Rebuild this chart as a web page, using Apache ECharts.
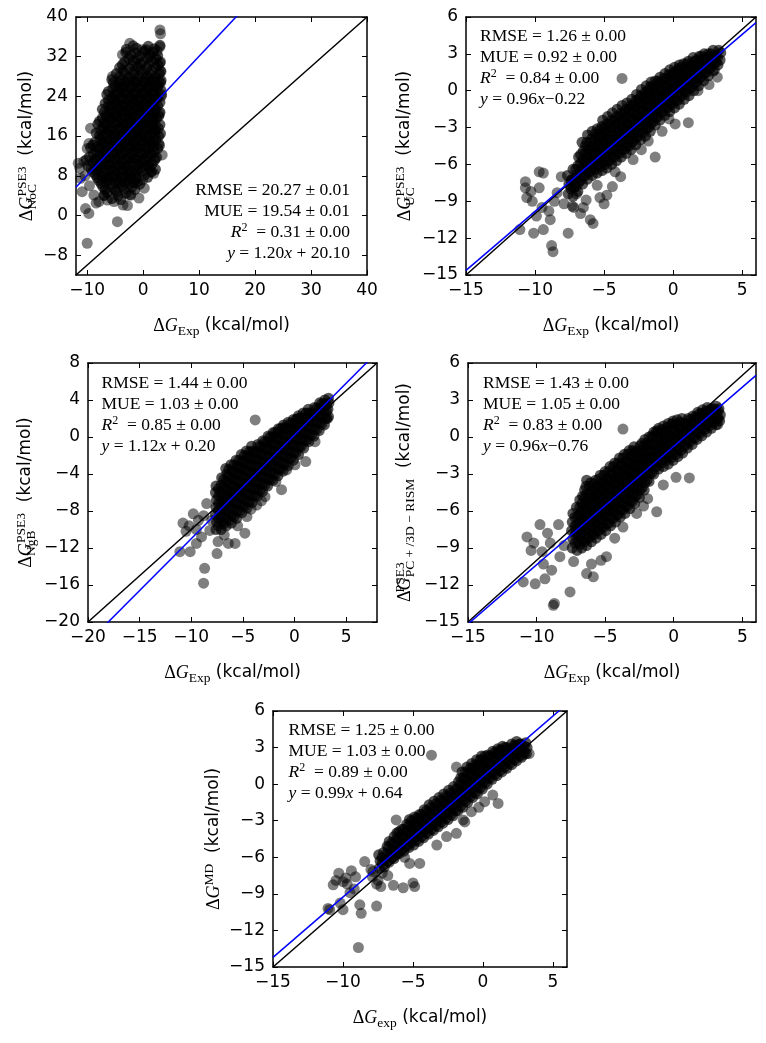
<!DOCTYPE html>
<html><head><meta charset="utf-8">
<script src="https://cdn.jsdelivr.net/npm/echarts@6.0.0/dist/echarts.min.js"></script>
<style>html,body{margin:0;padding:0;background:#fff}#c{width:766px;height:1043px}</style>
</head><body><div id="c"></div>
<script>
// ---------- data ----------
const nocCore = [
[-3.0,33.5],[-1.2,33.7],[0.5,33.4],[2.0,33.6],[-2.2,32.3],[-0.6,32.1],[1.1,32.4],[2.6,32.2],
[-3.3,31.0],[-1.8,31.2],[-0.2,30.9],[1.5,31.1],[3.0,30.8],[-4.2,29.8],[-2.5,29.6],[-1.0,29.9],[0.6,29.7],[2.2,29.9],
[-4.8,28.6],[-3.4,28.8],[-1.7,28.5],[-0.1,28.7],[1.3,28.4],[2.9,28.6],
[-5.6,27.4],[-4.1,27.2],[-2.6,27.5],[-1.0,27.3],[0.5,27.6],[2.0,27.4],[3.2,27.2],
[-5.0,26.2],[-3.5,26.0],[-1.9,26.3],[-0.3,26.1],[1.2,26.4],[2.7,26.2],
[-6.2,25.0],[-4.6,25.2],[-3.0,24.9],[-1.4,25.1],[0.2,24.8],[1.8,25.0],[3.2,25.2],
[-5.6,23.8],[-4.0,23.6],[-2.3,23.9],[-0.7,23.7],[0.9,23.9],[2.5,23.7],
[-6.8,22.6],[-5.1,22.8],[-3.4,22.5],[-1.8,22.7],[-0.2,22.4],[1.5,22.6],[3.0,22.8],
[-7.3,21.4],[-6.0,21.2],[-4.4,21.5],[-2.7,21.3],[-1.1,21.6],[0.6,21.4],[2.2,21.2],
[-6.6,20.2],[-5.0,20.0],[-3.5,20.3],[-2.0,20.1],[-0.4,20.4],[1.2,20.2],[2.8,20.0],
[-7.8,19.0],[-6.1,19.2],[-4.4,18.9],[-2.8,19.1],[-1.2,18.8],[0.4,19.0],[1.9,19.2],
[-7.1,17.8],[-5.5,17.6],[-3.8,17.9],[-2.1,17.7],[-0.5,18.0],[1.1,17.8],[2.7,17.6],
[-8.4,16.6],[-6.6,16.8],[-4.9,16.5],[-3.2,16.7],[-1.6,16.4],[0.0,16.6],[1.7,16.8],[3.1,16.5],
[-7.7,15.4],[-6.0,15.2],[-4.3,15.5],[-2.6,15.3],[-1.0,15.6],[0.7,15.4],[2.3,15.2],
[-9.0,14.2],[-7.2,14.4],[-5.4,14.1],[-3.7,14.3],[-2.0,14.0],[-0.3,14.2],[1.4,14.4],[2.9,14.1],
[-8.3,13.0],[-6.6,12.8],[-4.8,13.1],[-3.1,12.9],[-1.4,13.2],[0.3,13.0],[2.0,12.8],
[-9.6,11.8],[-7.8,12.0],[-6.0,11.7],[-4.2,11.9],[-2.5,11.6],[-0.8,11.8],[0.9,12.0],[2.4,11.7],
[-8.9,10.6],[-7.2,10.4],[-5.4,10.7],[-3.6,10.5],[-1.9,10.8],[-0.1,10.6],[1.6,10.4],
[-9.3,9.4],[-7.6,9.6],[-5.8,9.3],[-4.1,9.5],[-2.4,9.2],[-0.6,9.4],[1.1,9.6],[2.2,9.3],
[-8.5,8.2],[-6.7,8.0],[-5.0,8.3],[-3.2,8.1],[-1.5,8.4],[0.3,8.2],
[-7.9,7.0],[-6.2,7.2],[-4.4,6.9],[-2.7,7.1],[-1.0,6.8],
[-7.2,5.8],[-5.5,5.6],[-3.8,5.9],[-2.0,5.7],[-6.4,4.6],[-4.7,4.8],[-3.1,4.5],[-5.6,3.4],[-4.0,3.2],
[-1.8,34.2],[0.9,34.1],[3.0,34.3],[-3.1,32.9],[-1.4,32.8],[0.2,33.0],[1.8,32.9],
[-2.6,31.6],[-1.0,31.5],[0.8,31.7],[2.3,31.6],[-3.7,30.4],[-1.9,30.3],[-0.5,30.5],[1.0,30.4],[2.7,30.3],
[-3.6,29.2],[-1.7,29.1],[-0.4,29.3],[1.5,29.2],[3.1,29.1],[-4.2,28.0],[-2.5,27.9],[-0.8,28.1],[0.7,28.0],[2.2,27.9],
[-5.3,26.8],[-4.3,26.7],[-2.7,26.9],[-1.1,26.8],[0.4,26.7],[2.0,26.9],[3.1,26.8],
[-5.4,25.6],[-3.8,25.5],[-2.2,25.7],[-0.6,25.6],[1.0,25.5],[2.5,25.7],
[-6.5,24.4],[-4.8,24.3],[-3.1,24.5],[-1.5,24.4],[0.1,24.3],[1.7,24.5],[3.3,24.4],
[-6.2,23.2],[-4.4,23.1],[-2.8,23.3],[-1.2,23.2],[0.4,23.1],[2.0,23.3],
[-5.8,22.0],[-4.0,21.9],[-2.4,22.1],[-0.7,22.0],[0.9,21.9],[2.6,22.1],
[-6.9,20.8],[-5.2,20.7],[-3.5,20.9],[-1.9,20.8],[-0.2,20.7],[1.4,20.9],[3.0,20.8],
[-7.3,19.6],[-5.6,19.5],[-3.9,19.7],[-2.3,19.6],[-0.7,19.5],[0.9,19.7],[2.4,19.6],
[-8.1,18.4],[-6.4,18.3],[-4.8,18.5],[-3.1,18.4],[-1.5,18.3],[0.1,18.5],[1.7,18.4],[3.0,18.3],
[-7.6,17.2],[-6.0,17.1],[-4.3,17.3],[-2.7,17.2],[-1.0,17.1],[0.6,17.3],[2.2,17.2],
[-7.2,16.0],[-5.4,15.9],[-3.7,16.1],[-2.1,16.0],[-0.4,15.9],[1.2,16.1],[2.8,16.0],
[-8.6,14.8],[-6.9,14.7],[-5.1,14.9],[-3.4,14.8],[-1.7,14.7],[0.0,14.9],[1.8,14.8],
[-9.4,13.6],[-7.7,13.5],[-5.9,13.7],[-4.2,13.6],[-2.5,13.5],[-0.8,13.7],[1.0,13.6],[2.6,13.5],
[-8.9,12.4],[-7.1,12.3],[-5.3,12.5],[-3.6,12.4],[-1.9,12.3],[-0.1,12.5],[1.5,12.4],
[-10.2,11.2],[-8.4,11.1],[-6.6,11.3],[-4.8,11.2],[-3.0,11.1],[-1.3,11.3],[0.5,11.2],[2.0,11.1],
[-9.9,10.0],[-8.0,9.9],[-6.3,10.1],[-4.6,10.0],[-2.9,9.9],[-1.1,10.1],[0.6,10.0],
[-9.0,8.8],[-7.2,8.7],[-5.4,8.9],[-3.7,8.8],[-2.0,8.7],[-0.2,8.9],[1.5,8.8],
[-8.2,7.6],[-6.5,7.5],[-4.8,7.7],[-3.0,7.6],[-1.3,7.5],[0.8,7.7],
[-7.5,6.4],[-5.8,6.3],[-4.1,6.5],[-2.4,6.4],[-0.6,6.3],[-6.8,5.2],[-5.0,5.1],[-3.4,5.3],[-1.5,5.2],
[-7.0,4.0],[-4.5,3.9],[-2.2,4.1]
];
const nocCore2 = [
[-3.3,27.0],[-1.5,27.0],[0.2,26.9],[1.6,27.1],[-4.0,25.8],[-2.4,25.9],[-0.8,25.7],[0.9,25.8],[2.2,25.9],
[-5.0,24.6],[-3.4,24.7],[-1.8,24.5],[-0.2,24.6],[1.4,24.7],[-5.2,23.4],[-3.6,23.5],[-1.9,23.3],[-0.3,23.4],[1.3,23.5],
[-6.2,22.2],[-4.5,22.3],[-2.9,22.1],[-1.2,22.2],[0.5,22.3],[2.0,22.1],[-5.6,21.0],[-3.9,21.1],[-2.3,20.9],[-0.6,21.0],[1.0,21.1],
[-6.5,19.8],[-4.8,19.9],[-3.1,19.7],[-1.5,19.8],[0.2,19.9],[1.7,19.7],[-7.0,18.6],[-5.3,18.7],[-3.6,18.5],[-2.0,18.6],[-0.3,18.7],[1.2,18.5],
[-6.4,17.4],[-4.6,17.5],[-3.0,17.3],[-1.3,17.4],[0.3,17.5],[1.9,17.3],
[-7.8,16.2],[-6.0,16.3],[-4.3,16.1],[-2.6,16.2],[-0.9,16.3],[0.6,16.1],[2.1,16.2],
[-7.3,15.0],[-5.6,15.1],[-3.9,14.9],[-2.2,15.0],[-0.5,15.1],[1.1,14.9],
[-8.2,13.8],[-6.4,13.9],[-4.7,13.7],[-3.0,13.8],[-1.3,13.9],[0.4,13.7],[1.9,13.8],
[-7.6,12.6],[-5.8,12.7],[-4.1,12.5],[-2.4,12.6],[-0.7,12.7],[1.0,12.5],
[-8.6,11.4],[-6.9,11.5],[-5.1,11.3],[-3.4,11.4],[-1.6,11.5],[0.1,11.3],
[-7.9,10.2],[-6.1,10.3],[-4.3,10.1],[-2.6,10.2],[-0.8,10.3],[1.0,10.1],
[-8.1,9.0],[-6.4,9.1],[-4.6,8.9],[-2.8,9.0],[-1.1,9.1],[-7.3,7.8],[-5.6,7.9],[-3.8,7.7],[-2.2,7.8],
[-6.6,6.6],[-4.9,6.7],[-3.2,6.5],[-1.6,6.6]
];
const nocSpread = [
[3.0,37.4],[3.1,36.6],[3.0,34.0],[3.1,31.0],[2.8,27.0],[2.5,23.6],[1.9,20.9],[2.2,18.2],[2.8,14.5],[3.4,12.2],
[1.9,8.5],[1.3,8.8],[-0.1,7.2],[-1.3,7.5],[-0.75,3.5],[-2.8,2.0],[-4.6,-1.25],[-5.2,2.8],[-6.4,3.1],[-7.0,4.1],
[-7.9,2.8],[-8.8,4.1],[-10.3,1.4],[-9.7,0.4],[-10.0,-5.6],[-10.9,4.8],[-11.2,7.5],[-10.6,10.9],[-10.0,13.5],
[-9.7,14.5],[-9.4,17.6],[-5.5,28.0],[-3.7,32.4],[-2.4,34.7],[-0.15,33.4],[1.3,32.0],[-11.6,10.5],[-11.3,9.5],
[-10.4,8.0],[-9.6,6.0],[-8.4,2.5],[-3.6,2.1],[-2.5,4.2],[0.2,5.5],[2.1,11.5],[2.9,20.5],[3.2,24.0],[3.2,29.0],[2.5,33.2]
];
const ucCore = [
[-7.6,-8.4],[-7.55,-7.6],[-7.65,-6.9],[-7.25,-8.6],[-7.2,-7.9],[-7.3,-7.2],[-7.25,-6.4],
[-6.9,-8.2],[-6.85,-7.5],[-6.95,-6.8],[-6.9,-6.1],[-6.85,-5.4],
[-6.55,-7.6],[-6.5,-7.0],[-6.6,-6.3],[-6.55,-5.6],[-6.5,-4.9],[-6.6,-4.2],
[-6.2,-7.2],[-6.15,-6.6],[-6.25,-6.0],[-6.2,-5.4],[-6.15,-4.8],[-6.25,-4.2],[-6.2,-3.6],
[-5.85,-6.9],[-5.8,-6.3],[-5.9,-5.7],[-5.85,-5.1],[-5.8,-4.5],[-5.9,-3.9],[-5.85,-3.3],
[-5.5,-6.7],[-5.45,-6.1],[-5.55,-5.5],[-5.5,-4.9],[-5.45,-4.3],[-5.55,-3.7],[-5.5,-3.1],
[-5.15,-6.5],[-5.1,-5.9],[-5.2,-5.3],[-5.15,-4.7],[-5.1,-4.1],[-5.2,-3.5],[-5.15,-2.9],[-5.1,-2.4],
[-4.8,-6.3],[-4.75,-5.7],[-4.85,-5.1],[-4.8,-4.5],[-4.75,-3.9],[-4.85,-3.3],[-4.8,-2.7],[-4.75,-2.1],
[-4.45,-6.0],[-4.4,-5.4],[-4.5,-4.8],[-4.45,-4.2],[-4.4,-3.6],[-4.5,-3.0],[-4.45,-2.4],[-4.4,-1.8],
[-4.1,-5.7],[-4.05,-5.1],[-4.15,-4.5],[-4.1,-3.9],[-4.05,-3.3],[-4.15,-2.7],[-4.1,-2.1],[-4.05,-1.5],
[-3.75,-5.4],[-3.7,-4.8],[-3.8,-4.2],[-3.75,-3.6],[-3.7,-3.0],[-3.8,-2.4],[-3.75,-1.8],[-3.7,-1.2],
[-3.4,-5.1],[-3.35,-4.5],[-3.45,-3.9],[-3.4,-3.3],[-3.35,-2.7],[-3.45,-2.1],[-3.4,-1.5],[-3.35,-1.0],
[-3.05,-4.8],[-3.0,-4.2],[-3.1,-3.6],[-3.05,-3.0],[-3.0,-2.4],[-3.1,-1.8],[-3.05,-1.2],[-3.0,-0.7],
[-2.7,-4.4],[-2.65,-3.8],[-2.75,-3.2],[-2.7,-2.6],[-2.65,-2.0],[-2.75,-1.4],[-2.7,-0.8],[-2.65,-0.3],
[-2.35,-4.0],[-2.3,-3.4],[-2.4,-2.8],[-2.35,-2.2],[-2.3,-1.6],[-2.4,-1.0],[-2.35,-0.4],[-2.3,0.1],
[-2.0,-3.7],[-1.95,-3.1],[-2.05,-2.5],[-2.0,-1.9],[-1.95,-1.3],[-2.05,-0.7],[-2.0,-0.1],[-1.95,0.4],
[-1.65,-3.3],[-1.6,-2.7],[-1.7,-2.1],[-1.65,-1.5],[-1.6,-0.9],[-1.7,-0.3],[-1.65,0.3],[-1.6,0.7],
[-1.3,-2.8],[-1.25,-2.2],[-1.35,-1.6],[-1.3,-1.0],[-1.25,-0.4],[-1.35,0.2],[-1.3,0.8],
[-0.95,-2.4],[-0.9,-1.8],[-1.0,-1.2],[-0.95,-0.6],[-0.9,0.0],[-1.0,0.6],[-0.95,1.1],
[-0.6,-2.0],[-0.55,-1.4],[-0.65,-0.8],[-0.6,-0.2],[-0.55,0.4],[-0.65,1.0],[-0.6,1.4],
[-0.25,-1.7],[-0.2,-1.1],[-0.3,-0.5],[-0.25,0.1],[-0.2,0.7],[-0.3,1.3],[-0.25,1.7],
[0.1,-1.4],[0.15,-0.8],[0.05,-0.2],[0.1,0.4],[0.15,1.0],[0.05,1.5],[0.1,1.9],
[0.45,-1.1],[0.5,-0.5],[0.4,0.1],[0.45,0.7],[0.5,1.3],[0.4,1.8],[0.45,2.1],
[0.8,-0.7],[0.85,-0.1],[0.75,0.5],[0.8,1.1],[0.85,1.7],[0.75,2.2],
[1.15,-0.4],[1.2,0.2],[1.1,0.8],[1.15,1.4],[1.2,2.0],[1.1,2.4],
[1.5,0.0],[1.55,0.6],[1.45,1.2],[1.5,1.8],[1.55,2.4],[1.45,2.7],
[1.85,0.4],[1.9,1.0],[1.8,1.6],[1.85,2.2],[1.9,2.8],[2.2,0.8],[2.25,1.4],[2.15,2.0],[2.2,2.6],[2.25,3.0],
[2.55,1.2],[2.6,1.8],[2.5,2.4],[2.55,3.0],[2.9,1.6],[2.95,2.2],[2.85,2.8],[2.9,3.3],
[3.25,2.1],[3.2,2.7],[3.3,3.3],[3.4,2.5],[3.45,3.1]
];
const ucCore2 = [
[-7.4,-8.0],[-7.4,-7.3],[-7.05,-7.8],[-7.05,-7.1],[-7.05,-6.4],[-6.7,-7.3],[-6.7,-6.6],[-6.7,-5.9],[-6.7,-5.2],
[-6.35,-6.9],[-6.35,-6.3],[-6.35,-5.7],[-6.35,-5.1],[-6.35,-4.5],[-6.0,-6.6],[-6.0,-6.0],[-6.0,-5.4],[-6.0,-4.8],[-6.0,-4.2],
[-5.65,-6.4],[-5.65,-5.8],[-5.65,-5.2],[-5.65,-4.6],[-5.65,-4.0],[-5.65,-3.5],
[-5.3,-6.2],[-5.3,-5.6],[-5.3,-5.0],[-5.3,-4.4],[-5.3,-3.8],[-5.3,-3.2],
[-4.95,-6.0],[-4.95,-5.4],[-4.95,-4.8],[-4.95,-4.2],[-4.95,-3.6],[-4.95,-3.0],
[-4.6,-5.7],[-4.6,-5.1],[-4.6,-4.5],[-4.6,-3.9],[-4.6,-3.3],[-4.6,-2.7],
[-4.25,-5.4],[-4.25,-4.8],[-4.25,-4.2],[-4.25,-3.6],[-4.25,-3.0],[-4.25,-2.4],
[-3.9,-5.1],[-3.9,-4.5],[-3.9,-3.9],[-3.9,-3.3],[-3.9,-2.7],[-3.9,-2.1],
[-3.55,-4.8],[-3.55,-4.2],[-3.55,-3.6],[-3.55,-3.0],[-3.55,-2.4],[-3.55,-1.8],
[-3.2,-4.5],[-3.2,-3.9],[-3.2,-3.3],[-3.2,-2.7],[-3.2,-2.1],[-3.2,-1.5],
[-2.85,-4.1],[-2.85,-3.5],[-2.85,-2.9],[-2.85,-2.3],[-2.85,-1.7],[-2.85,-1.1],
[-2.5,-3.7],[-2.5,-3.1],[-2.5,-2.5],[-2.5,-1.9],[-2.5,-1.3],[-2.5,-0.7],
[-2.15,-3.4],[-2.15,-2.8],[-2.15,-2.2],[-2.15,-1.6],[-2.15,-1.0],[-2.15,-0.4],
[-1.8,-3.0],[-1.8,-2.4],[-1.8,-1.8],[-1.8,-1.2],[-1.8,-0.6],[-1.8,0.0],
[-1.45,-2.5],[-1.45,-1.9],[-1.45,-1.3],[-1.45,-0.7],[-1.45,-0.1],[-1.45,0.4],
[-1.1,-2.1],[-1.1,-1.5],[-1.1,-0.9],[-1.1,-0.3],[-1.1,0.3],[-1.1,0.8],
[-0.75,-1.7],[-0.75,-1.1],[-0.75,-0.5],[-0.75,0.1],[-0.75,0.7],[-0.4,-1.4],[-0.4,-0.8],[-0.4,-0.2],[-0.4,0.4],[-0.4,1.0],
[-0.05,-1.1],[-0.05,-0.5],[-0.05,0.1],[-0.05,0.7],[-0.05,1.3],[0.3,-0.8],[0.3,-0.2],[0.3,0.4],[0.3,1.0],[0.3,1.6],
[0.65,-0.4],[0.65,0.2],[0.65,0.8],[0.65,1.4],[0.65,1.9],[1.0,-0.1],[1.0,0.5],[1.0,1.1],[1.0,1.7],[1.0,2.2],
[1.35,0.3],[1.35,0.9],[1.35,1.5],[1.35,2.1],[1.7,0.7],[1.7,1.3],[1.7,1.9],[1.7,2.5],
[2.05,1.1],[2.05,1.7],[2.05,2.3],[2.05,2.8],[2.4,1.5],[2.4,2.1],[2.4,2.7],[2.75,1.9],[2.75,2.5],[2.75,3.0],[3.1,2.3],[3.1,2.9]
];
const ucSpread = [
[-3.7,1.0],[3.2,1.1],[1.1,-2.6],[0.15,-2.7],[-0.3,-2.3],[-1.3,-5.4],[-2.9,-5.6],[-3.8,-7.0],[-4.4,-7.8],
[-4.8,-8.5],[-5.0,-9.2],[-5.8,-10.8],[-6.0,-10.5],[-6.3,-8.9],[-5.3,-8.7],[-6.7,-10.0],[-7.6,-11.6],
[-8.7,-13.1],[-8.8,-12.6],[-8.9,-10.5],[-9.4,-11.3],[-10.1,-11.6],[-11.1,-11.3],[-10.3,-8.2],[-9.7,-6.6],
[-10.7,-7.4],[-9.4,-6.7],[-10.7,-7.9],[-9.7,-7.9],[-10.2,-9.0],[-9.5,-9.5],[-8.6,-9.0],[-8.1,-7.0],
[-8.4,-8.3],[-7.9,-9.2],[-7.2,-9.5],[-6.5,-9.5],[-5.5,-7.7],[-4.2,-6.6],[-2.3,-4.8],[-1.8,-4.1],
[-0.8,-3.3],[1.8,0.0],[2.6,0.5],[3.0,1.7],[-9.9,-10.2],[-9.0,-9.8],[-10.6,-8.7],[-7.4,-7.8],[-7.0,-8.4],[-7.3,-9.4]
];
const ngbCore = [
[-7.6,-10.0],[-7.55,-9.2],[-7.65,-8.4],[-7.6,-7.6],[-7.55,-6.8],[-7.65,-6.0],[-7.6,-5.3],
[-7.1,-10.0],[-7.05,-9.2],[-7.15,-8.4],[-7.1,-7.6],[-7.05,-6.8],[-7.15,-6.0],[-7.1,-5.2],[-7.05,-4.4],
[-6.6,-9.6],[-6.55,-8.8],[-6.65,-8.0],[-6.6,-7.2],[-6.55,-6.4],[-6.65,-5.6],[-6.6,-4.8],[-6.55,-4.0],[-6.65,-3.4],
[-6.1,-9.3],[-6.05,-8.5],[-6.15,-7.7],[-6.1,-6.9],[-6.05,-6.1],[-6.15,-5.3],[-6.1,-4.5],[-6.05,-3.7],[-6.15,-3.0],
[-5.6,-8.8],[-5.55,-8.0],[-5.65,-7.2],[-5.6,-6.4],[-5.55,-5.6],[-5.65,-4.8],[-5.6,-4.0],[-5.55,-3.2],[-5.65,-2.5],
[-5.1,-8.2],[-5.05,-7.4],[-5.15,-6.6],[-5.1,-5.8],[-5.05,-5.0],[-5.15,-4.2],[-5.1,-3.4],[-5.05,-2.6],[-5.15,-1.9],
[-4.6,-7.7],[-4.55,-6.9],[-4.65,-6.1],[-4.6,-5.3],[-4.55,-4.5],[-4.65,-3.7],[-4.6,-2.9],[-4.55,-2.1],[-4.65,-1.5],
[-4.1,-7.1],[-4.05,-6.3],[-4.15,-5.5],[-4.1,-4.7],[-4.05,-3.9],[-4.15,-3.1],[-4.1,-2.3],[-4.05,-1.5],[-4.15,-1.0],
[-3.6,-6.4],[-3.55,-5.6],[-3.65,-4.8],[-3.6,-4.0],[-3.55,-3.2],[-3.65,-2.4],[-3.6,-1.6],[-3.55,-0.8],
[-3.1,-5.9],[-3.05,-5.1],[-3.15,-4.3],[-3.1,-3.5],[-3.05,-2.7],[-3.15,-1.9],[-3.1,-1.1],[-3.05,-0.4],
[-2.6,-5.3],[-2.55,-4.5],[-2.65,-3.7],[-2.6,-2.9],[-2.55,-2.1],[-2.65,-1.3],[-2.6,-0.5],[-2.55,0.1],
[-2.1,-4.7],[-2.05,-3.9],[-2.15,-3.1],[-2.1,-2.3],[-2.05,-1.5],[-2.15,-0.7],[-2.1,0.0],[-2.05,0.5],
[-1.6,-4.2],[-1.55,-3.4],[-1.65,-2.6],[-1.6,-1.8],[-1.55,-1.0],[-1.65,-0.2],[-1.6,0.5],[-1.55,0.9],
[-1.1,-3.7],[-1.05,-2.9],[-1.15,-2.1],[-1.1,-1.3],[-1.05,-0.5],[-1.15,0.3],[-1.1,1.0],[-1.05,1.3],
[-0.6,-3.1],[-0.55,-2.3],[-0.65,-1.5],[-0.6,-0.7],[-0.55,0.1],[-0.65,0.9],[-0.6,1.6],
[-0.1,-2.5],[-0.05,-1.7],[-0.15,-0.9],[-0.1,-0.1],[-0.05,0.7],[-0.15,1.4],[-0.1,1.9],
[0.4,-1.9],[0.45,-1.1],[0.35,-0.3],[0.4,0.5],[0.45,1.3],[0.35,2.0],[0.4,2.3],
[0.9,-1.2],[0.95,-0.4],[0.85,0.4],[0.9,1.2],[0.95,2.0],[0.85,2.6],
[1.4,-0.5],[1.45,0.3],[1.35,1.1],[1.4,1.9],[1.45,2.6],[1.35,3.0],
[1.9,0.1],[1.95,0.9],[1.85,1.7],[1.9,2.5],[1.95,3.2],[2.4,0.7],[2.45,1.5],[2.35,2.3],[2.4,3.1],[2.45,3.7],
[2.9,1.3],[2.95,2.1],[2.85,2.9],[2.9,3.6],[2.95,4.0],[3.3,2.2],[3.25,3.0],[3.35,3.7],[3.3,4.2]
];
const ngbCore2 = [
[-7.35,-9.6],[-7.35,-8.8],[-7.35,-8.0],[-7.35,-7.2],[-7.35,-6.4],[-7.35,-5.6],
[-6.85,-9.4],[-6.85,-8.6],[-6.85,-7.8],[-6.85,-7.0],[-6.85,-6.2],[-6.85,-5.4],[-6.85,-4.6],
[-6.35,-9.0],[-6.35,-8.2],[-6.35,-7.4],[-6.35,-6.6],[-6.35,-5.8],[-6.35,-5.0],[-6.35,-4.2],[-6.35,-3.5],
[-5.85,-8.6],[-5.85,-7.8],[-5.85,-7.0],[-5.85,-6.2],[-5.85,-5.4],[-5.85,-4.6],[-5.85,-3.8],[-5.85,-3.0],
[-5.35,-8.0],[-5.35,-7.2],[-5.35,-6.4],[-5.35,-5.6],[-5.35,-4.8],[-5.35,-4.0],[-5.35,-3.2],[-5.35,-2.5],
[-4.85,-7.5],[-4.85,-6.7],[-4.85,-5.9],[-4.85,-5.1],[-4.85,-4.3],[-4.85,-3.5],[-4.85,-2.7],[-4.85,-2.0],
[-4.35,-7.0],[-4.35,-6.2],[-4.35,-5.4],[-4.35,-4.6],[-4.35,-3.8],[-4.35,-3.0],[-4.35,-2.2],[-4.35,-1.6],
[-3.85,-6.4],[-3.85,-5.6],[-3.85,-4.8],[-3.85,-4.0],[-3.85,-3.2],[-3.85,-2.4],[-3.85,-1.6],
[-3.35,-5.8],[-3.35,-5.0],[-3.35,-4.2],[-3.35,-3.4],[-3.35,-2.6],[-3.35,-1.8],[-3.35,-1.0],
[-2.85,-5.2],[-2.85,-4.4],[-2.85,-3.6],[-2.85,-2.8],[-2.85,-2.0],[-2.85,-1.2],[-2.85,-0.5],
[-2.35,-4.6],[-2.35,-3.8],[-2.35,-3.0],[-2.35,-2.2],[-2.35,-1.4],[-2.35,-0.6],[-2.35,0.0],
[-1.85,-4.0],[-1.85,-3.2],[-1.85,-2.4],[-1.85,-1.6],[-1.85,-0.8],[-1.85,0.0],[-1.85,0.5],
[-1.35,-3.5],[-1.35,-2.7],[-1.35,-1.9],[-1.35,-1.1],[-1.35,-0.3],[-1.35,0.5],[-1.35,0.9],
[-0.85,-2.9],[-0.85,-2.1],[-0.85,-1.3],[-0.85,-0.5],[-0.85,0.3],[-0.85,1.0],
[-0.35,-2.3],[-0.35,-1.5],[-0.35,-0.7],[-0.35,0.1],[-0.35,0.9],[-0.35,1.5],
[0.15,-1.7],[0.15,-0.9],[0.15,-0.1],[0.15,0.7],[0.15,1.4],[0.15,1.9],
[0.65,-1.0],[0.65,-0.2],[0.65,0.6],[0.65,1.4],[0.65,2.1],[1.15,-0.4],[1.15,0.4],[1.15,1.2],[1.15,2.0],[1.15,2.6],
[1.65,0.2],[1.65,1.0],[1.65,1.8],[1.65,2.6],[2.15,0.8],[2.15,1.6],[2.15,2.4],[2.15,3.1],
[2.65,1.4],[2.65,2.2],[2.65,3.0],[2.65,3.6],[3.1,2.0],[3.1,2.8],[3.1,3.5]
];
const ngbSpread = [
[-3.8,1.85],[1.1,-2.66],[0.06,-3.0],[-0.75,-3.56],[-1.25,-5.7],[-2.85,-6.45],[-3.65,-7.36],[-4.6,-8.6],
[-4.8,-10.4],[-5.75,-11.5],[-6.4,-11.5],[-7.4,-11.3],[-7.5,-12.6],[-8.7,-14.2],[-8.8,-15.8],[-10.1,-12.4],
[-11.1,-12.4],[-9.5,-11.5],[-8.2,-10.1],[-9.8,-8.3],[-10.8,-9.3],[-10.2,-9.6],[-9.5,-10.0],[-8.5,-7.2],
[-9.0,-10.8],[-10.5,-10.2],[-9.3,-9.0],[-8.0,-9.0],[-8.8,-8.5],[3.2,2.0],[2.0,-0.5],[-1.8,-4.8],[-3.2,-6.9],
[-4.2,-7.8],[-5.5,-9.6],[-6.8,-10.6]
];
const rismCore = [
[-7.4,-9.0],[-7.35,-8.3],[-7.45,-7.6],[-7.4,-6.9],[-7.35,-6.2],
[-7.05,-9.2],[-7.0,-8.5],[-7.1,-7.8],[-7.05,-7.1],[-7.0,-6.4],[-7.1,-5.7],
[-6.7,-9.0],[-6.65,-8.4],[-6.75,-7.8],[-6.7,-7.2],[-6.65,-6.6],[-6.75,-6.0],[-6.7,-5.4],[-6.65,-4.8],
[-6.35,-8.8],[-6.3,-8.2],[-6.4,-7.6],[-6.35,-7.0],[-6.3,-6.4],[-6.4,-5.8],[-6.35,-5.2],[-6.3,-4.6],[-6.4,-4.0],[-6.35,-3.5],
[-6.0,-8.5],[-5.95,-7.9],[-6.05,-7.3],[-6.0,-6.7],[-5.95,-6.1],[-6.05,-5.5],[-6.0,-4.9],[-5.95,-4.3],[-6.05,-3.7],
[-5.65,-8.2],[-5.6,-7.6],[-5.7,-7.0],[-5.65,-6.4],[-5.6,-5.8],[-5.7,-5.2],[-5.65,-4.6],[-5.6,-4.0],[-5.7,-3.5],
[-5.3,-7.9],[-5.25,-7.3],[-5.35,-6.7],[-5.3,-6.1],[-5.25,-5.5],[-5.35,-4.9],[-5.3,-4.3],[-5.25,-3.7],[-5.35,-3.1],
[-4.95,-7.6],[-4.9,-7.0],[-5.0,-6.4],[-4.95,-5.8],[-4.9,-5.2],[-5.0,-4.6],[-4.95,-4.0],[-4.9,-3.4],[-5.0,-2.8],
[-4.6,-7.2],[-4.55,-6.6],[-4.65,-6.0],[-4.6,-5.4],[-4.55,-4.8],[-4.65,-4.2],[-4.6,-3.6],[-4.55,-3.0],[-4.65,-2.4],
[-4.25,-6.9],[-4.2,-6.3],[-4.3,-5.7],[-4.25,-5.1],[-4.2,-4.5],[-4.3,-3.9],[-4.25,-3.3],[-4.2,-2.7],[-4.3,-2.1],
[-3.9,-6.5],[-3.85,-5.9],[-3.95,-5.3],[-3.9,-4.7],[-3.85,-4.1],[-3.95,-3.5],[-3.9,-2.9],[-3.85,-2.3],[-3.95,-1.7],
[-3.55,-6.2],[-3.5,-5.6],[-3.6,-5.0],[-3.55,-4.4],[-3.5,-3.8],[-3.6,-3.2],[-3.55,-2.6],[-3.5,-2.0],[-3.6,-1.4],
[-3.2,-5.8],[-3.15,-5.2],[-3.25,-4.6],[-3.2,-4.0],[-3.15,-3.4],[-3.25,-2.8],[-3.2,-2.2],[-3.15,-1.6],[-3.25,-1.1],
[-2.85,-5.4],[-2.8,-4.8],[-2.9,-4.2],[-2.85,-3.6],[-2.8,-3.0],[-2.9,-2.4],[-2.85,-1.8],[-2.8,-1.2],[-2.9,-0.8],
[-2.5,-4.9],[-2.45,-4.3],[-2.55,-3.7],[-2.5,-3.1],[-2.45,-2.5],[-2.55,-1.9],[-2.5,-1.3],[-2.45,-0.7],
[-2.15,-4.3],[-2.1,-3.7],[-2.2,-3.1],[-2.15,-2.5],[-2.1,-1.9],[-2.2,-1.3],[-2.15,-0.7],[-2.1,-0.2],
[-1.8,-3.6],[-1.75,-3.0],[-1.85,-2.4],[-1.8,-1.8],[-1.75,-1.2],[-1.85,-0.6],[-1.8,0.0],
[-1.45,-3.0],[-1.4,-2.4],[-1.5,-1.8],[-1.45,-1.2],[-1.4,-0.6],[-1.5,0.0],[-1.45,0.4],
[-1.1,-2.6],[-1.05,-2.0],[-1.15,-1.4],[-1.1,-0.8],[-1.05,-0.2],[-1.15,0.4],[-1.1,0.7],
[-0.75,-2.4],[-0.7,-1.8],[-0.8,-1.2],[-0.75,-0.6],[-0.7,0.0],[-0.8,0.6],[-0.75,0.9],
[-0.4,-2.2],[-0.35,-1.6],[-0.45,-1.0],[-0.4,-0.4],[-0.35,0.2],[-0.45,0.8],[-0.4,1.1],
[-0.05,-1.9],[0.0,-1.3],[-0.1,-0.7],[-0.05,-0.1],[0.0,0.5],[-0.1,1.1],[-0.05,1.3],
[0.3,-1.6],[0.35,-1.0],[0.25,-0.4],[0.3,0.2],[0.35,0.8],[0.25,1.4],
[0.65,-1.3],[0.7,-0.7],[0.6,-0.1],[0.65,0.5],[0.7,1.1],[0.6,1.5],
[1.0,-0.9],[1.05,-0.3],[0.95,0.3],[1.0,0.9],[1.05,1.5],[1.35,-0.6],[1.4,0.0],[1.3,0.6],[1.35,1.2],[1.4,1.7],
[1.7,-0.2],[1.75,0.4],[1.65,1.0],[1.7,1.6],[1.75,2.0],[2.05,0.1],[2.1,0.7],[2.0,1.3],[2.05,1.9],[2.1,2.2],
[2.4,0.4],[2.45,1.0],[2.35,1.6],[2.4,2.1],[2.45,2.4],[2.75,0.7],[2.8,1.2],[2.7,1.7],[2.75,2.3],
[3.1,1.0],[3.15,1.5],[3.05,2.0],[3.1,2.5],[3.35,1.3],[3.4,1.8],[3.3,2.3]
];
const rismCore2 = [
[-7.2,-8.6],[-7.2,-7.9],[-7.2,-7.2],[-7.2,-6.5],[-6.85,-8.7],[-6.85,-8.1],[-6.85,-7.5],[-6.85,-6.9],[-6.85,-6.3],[-6.85,-5.7],[-6.85,-5.1],
[-6.5,-8.5],[-6.5,-7.9],[-6.5,-7.3],[-6.5,-6.7],[-6.5,-6.1],[-6.5,-5.5],[-6.5,-4.9],[-6.5,-4.3],
[-6.15,-8.2],[-6.15,-7.6],[-6.15,-7.0],[-6.15,-6.4],[-6.15,-5.8],[-6.15,-5.2],[-6.15,-4.6],[-6.15,-4.0],
[-5.8,-7.9],[-5.8,-7.3],[-5.8,-6.7],[-5.8,-6.1],[-5.8,-5.5],[-5.8,-4.9],[-5.8,-4.3],[-5.8,-3.8],
[-5.45,-7.6],[-5.45,-7.0],[-5.45,-6.4],[-5.45,-5.8],[-5.45,-5.2],[-5.45,-4.6],[-5.45,-4.0],[-5.45,-3.4],
[-5.1,-7.3],[-5.1,-6.7],[-5.1,-6.1],[-5.1,-5.5],[-5.1,-4.9],[-5.1,-4.3],[-5.1,-3.7],[-5.1,-3.1],
[-4.75,-7.0],[-4.75,-6.4],[-4.75,-5.8],[-4.75,-5.2],[-4.75,-4.6],[-4.75,-4.0],[-4.75,-3.4],[-4.75,-2.8],
[-4.4,-6.6],[-4.4,-6.0],[-4.4,-5.4],[-4.4,-4.8],[-4.4,-4.2],[-4.4,-3.6],[-4.4,-3.0],[-4.4,-2.4],
[-4.05,-6.3],[-4.05,-5.7],[-4.05,-5.1],[-4.05,-4.5],[-4.05,-3.9],[-4.05,-3.3],[-4.05,-2.7],[-4.05,-2.1],
[-3.7,-5.9],[-3.7,-5.3],[-3.7,-4.7],[-3.7,-4.1],[-3.7,-3.5],[-3.7,-2.9],[-3.7,-2.3],[-3.7,-1.7],
[-3.35,-5.6],[-3.35,-5.0],[-3.35,-4.4],[-3.35,-3.8],[-3.35,-3.2],[-3.35,-2.6],[-3.35,-2.0],[-3.35,-1.4],
[-3.0,-5.2],[-3.0,-4.6],[-3.0,-4.0],[-3.0,-3.4],[-3.0,-2.8],[-3.0,-2.2],[-3.0,-1.6],[-3.0,-1.1],
[-2.65,-4.7],[-2.65,-4.1],[-2.65,-3.5],[-2.65,-2.9],[-2.65,-2.3],[-2.65,-1.7],[-2.65,-1.1],
[-2.3,-4.1],[-2.3,-3.5],[-2.3,-2.9],[-2.3,-2.3],[-2.3,-1.7],[-2.3,-1.1],[-2.3,-0.5],
[-1.95,-3.5],[-1.95,-2.9],[-1.95,-2.3],[-1.95,-1.7],[-1.95,-1.1],[-1.95,-0.5],
[-1.6,-2.9],[-1.6,-2.3],[-1.6,-1.7],[-1.6,-1.1],[-1.6,-0.5],[-1.6,0.1],
[-1.25,-2.4],[-1.25,-1.8],[-1.25,-1.2],[-1.25,-0.6],[-1.25,0.0],[-1.25,0.5],
[-0.9,-2.1],[-0.9,-1.5],[-0.9,-0.9],[-0.9,-0.3],[-0.9,0.3],[-0.55,-1.9],[-0.55,-1.3],[-0.55,-0.7],[-0.55,-0.1],[-0.55,0.5],
[-0.2,-1.7],[-0.2,-1.1],[-0.2,-0.5],[-0.2,0.1],[-0.2,0.7],[0.15,-1.4],[0.15,-0.8],[0.15,-0.2],[0.15,0.4],[0.15,1.0],
[0.5,-1.1],[0.5,-0.5],[0.5,0.1],[0.5,0.7],[0.5,1.2],[0.85,-0.7],[0.85,-0.1],[0.85,0.5],[0.85,1.1],
[1.2,-0.4],[1.2,0.2],[1.2,0.8],[1.2,1.4],[1.55,-0.1],[1.55,0.5],[1.55,1.1],[1.55,1.6],
[1.9,0.3],[1.9,0.9],[1.9,1.5],[1.9,1.9],[2.25,0.6],[2.25,1.2],[2.25,1.8],[2.6,0.9],[2.6,1.5],[2.6,2.0],
[2.95,1.2],[2.95,1.8],[2.95,2.3],[3.25,1.5],[3.25,2.1]
];
const rismSpread = [
[-3.7,0.64],[0.17,-3.27],[1.14,-3.32],[-0.76,-3.89],[-1.24,-6.06],[-2.7,-6.2],[-3.7,-7.3],[-4.9,-9.7],
[-5.86,-11.34],[-6.35,-11.07],[-7.56,-12.56],[-8.78,-13.65],[-8.7,-13.5],[-10.1,-11.9],[-10.97,-11.75],
[-9.39,-11.5],[-8.9,-10.8],[-9.5,-10.3],[-10.7,-8.1],[-9.75,-7.1],[-8.4,-7.1],[-9.0,-8.6],[-10.2,-8.6],
[-9.6,-9.3],[-8.3,-9.7],[-8.0,-8.8],[-9.2,-7.8],[-10.4,-9.2],[-5.3,-10.0],[-4.3,-8.2],[-6.0,-10.3],
[-7.3,-10.1],[3.2,1.0],[-1.9,-5.0],[-2.2,-5.6]
];
const mdCore = [
[-7.4,-6.9],[-7.35,-6.3],[-7.45,-5.8],[-7.05,-6.8],[-7.0,-6.2],[-7.1,-5.6],
[-6.7,-6.4],[-6.65,-5.8],[-6.75,-5.2],[-6.7,-4.7],[-6.35,-6.1],[-6.3,-5.5],[-6.4,-4.9],[-6.35,-4.3],
[-6.0,-5.7],[-5.95,-5.1],[-6.05,-4.5],[-6.0,-3.9],[-5.65,-5.5],[-5.6,-4.9],[-5.7,-4.3],[-5.65,-3.7],
[-5.3,-5.2],[-5.25,-4.6],[-5.35,-4.0],[-5.3,-3.4],[-5.25,-2.9],[-4.95,-5.0],[-4.9,-4.4],[-5.0,-3.8],[-4.95,-3.2],[-4.9,-2.7],
[-4.6,-4.7],[-4.55,-4.1],[-4.65,-3.5],[-4.6,-2.9],[-4.55,-2.5],[-4.25,-4.4],[-4.2,-3.8],[-4.3,-3.2],[-4.25,-2.6],[-4.2,-2.1],
[-3.9,-4.1],[-3.85,-3.5],[-3.95,-2.9],[-3.9,-2.3],[-3.85,-1.7],[-3.55,-3.8],[-3.5,-3.2],[-3.6,-2.6],[-3.55,-2.0],[-3.5,-1.4],
[-3.2,-3.5],[-3.15,-2.9],[-3.25,-2.3],[-3.2,-1.7],[-3.15,-1.1],[-2.85,-3.2],[-2.8,-2.6],[-2.9,-2.0],[-2.85,-1.4],[-2.8,-0.8],
[-2.5,-2.9],[-2.45,-2.3],[-2.55,-1.7],[-2.5,-1.1],[-2.45,-0.5],[-2.15,-2.6],[-2.1,-2.0],[-2.2,-1.4],[-2.15,-0.8],[-2.1,-0.2],
[-1.8,-2.2],[-1.75,-1.6],[-1.85,-1.0],[-1.8,-0.4],[-1.75,0.2],
[-1.45,-1.9],[-1.4,-1.3],[-1.5,-0.7],[-1.45,-0.1],[-1.4,0.5],[-1.5,1.0],
[-1.1,-1.5],[-1.05,-0.9],[-1.15,-0.3],[-1.1,0.3],[-1.05,0.9],[-1.15,1.4],
[-0.75,-1.1],[-0.7,-0.5],[-0.8,0.1],[-0.75,0.7],[-0.7,1.3],[-0.8,1.7],
[-0.4,-0.8],[-0.35,-0.2],[-0.45,0.4],[-0.4,1.0],[-0.35,1.6],[-0.45,2.0],
[-0.05,-0.4],[0.0,0.2],[-0.1,0.8],[-0.05,1.4],[0.0,2.0],[-0.1,2.3],
[0.3,0.0],[0.35,0.6],[0.25,1.2],[0.3,1.8],[0.35,2.4],[0.65,0.4],[0.7,1.0],[0.6,1.6],[0.65,2.2],[0.7,2.7],
[1.0,0.7],[1.05,1.3],[0.95,1.9],[1.0,2.5],[1.05,2.9],[1.35,1.0],[1.4,1.6],[1.3,2.2],[1.35,2.8],[1.4,3.1],
[1.7,1.3],[1.75,1.9],[1.65,2.5],[1.7,3.0],[2.05,1.6],[2.1,2.2],[2.0,2.8],[2.05,3.3],
[2.4,1.9],[2.45,2.5],[2.35,3.1],[2.4,3.5],[2.75,2.2],[2.8,2.8],[2.7,3.3],[3.1,2.5],[3.15,3.0],[3.05,3.4]
];
const mdCore2 = [
[-7.2,-6.5],[-7.2,-6.0],[-6.85,-6.3],[-6.85,-5.7],[-6.85,-5.1],[-6.5,-6.0],[-6.5,-5.4],[-6.5,-4.8],
[-6.15,-5.7],[-6.15,-5.1],[-6.15,-4.5],[-6.15,-4.0],[-5.8,-5.4],[-5.8,-4.8],[-5.8,-4.2],[-5.8,-3.7],
[-5.45,-5.1],[-5.45,-4.5],[-5.45,-3.9],[-5.45,-3.3],[-5.1,-4.8],[-5.1,-4.2],[-5.1,-3.6],[-5.1,-3.0],
[-4.75,-4.6],[-4.75,-4.0],[-4.75,-3.4],[-4.75,-2.8],[-4.4,-4.3],[-4.4,-3.7],[-4.4,-3.1],[-4.4,-2.5],
[-4.05,-4.0],[-4.05,-3.4],[-4.05,-2.8],[-4.05,-2.2],[-3.7,-3.7],[-3.7,-3.1],[-3.7,-2.5],[-3.7,-1.9],
[-3.35,-3.4],[-3.35,-2.8],[-3.35,-2.2],[-3.35,-1.6],[-3.0,-3.1],[-3.0,-2.5],[-3.0,-1.9],[-3.0,-1.3],
[-2.65,-2.8],[-2.65,-2.2],[-2.65,-1.6],[-2.65,-1.0],[-2.3,-2.5],[-2.3,-1.9],[-2.3,-1.3],[-2.3,-0.7],
[-1.95,-2.2],[-1.95,-1.6],[-1.95,-1.0],[-1.95,-0.4],[-1.6,-1.8],[-1.6,-1.2],[-1.6,-0.6],[-1.6,0.0],[-1.6,0.5],
[-1.25,-1.4],[-1.25,-0.8],[-1.25,-0.2],[-1.25,0.4],[-1.25,1.0],[-0.9,-1.0],[-0.9,-0.4],[-0.9,0.2],[-0.9,0.8],[-0.9,1.3],
[-0.55,-0.7],[-0.55,-0.1],[-0.55,0.5],[-0.55,1.1],[-0.55,1.6],[-0.2,-0.3],[-0.2,0.3],[-0.2,0.9],[-0.2,1.5],[-0.2,2.0],
[0.15,0.1],[0.15,0.7],[0.15,1.3],[0.15,1.9],[0.15,2.3],[0.5,0.5],[0.5,1.1],[0.5,1.7],[0.5,2.3],
[0.85,0.8],[0.85,1.4],[0.85,2.0],[0.85,2.6],[1.2,1.1],[1.2,1.7],[1.2,2.3],[1.2,2.8],
[1.55,1.4],[1.55,2.0],[1.55,2.6],[1.55,3.0],[1.9,1.7],[1.9,2.3],[1.9,2.9],[2.25,2.0],[2.25,2.6],[2.25,3.2],
[2.6,2.3],[2.6,2.9],[2.6,3.3],[2.95,2.6],[2.95,3.1]
];
const mdSpread = [
[-3.68,2.38],[-6.2,-2.94],[0.12,-1.44],[1.08,-1.58],[-0.83,-2.26],[-1.42,-2.94],[-1.9,-4.03],[-5.0,-8.1],
[-5.7,-8.5],[-6.4,-8.3],[-7.6,-10.0],[-8.7,-10.6],[-8.8,-9.9],[-8.9,-13.4],[-10.2,-9.76],[-10.95,-10.3],
[-10.7,-8.26],[-8.45,-6.35],[-7.86,-7.17],[-10.0,-10.3],[-11.07,-10.2],[-4.88,-8.4],[-4.52,-6.5],[-5.24,-6.5],
[-1.9,1.4],[-1.3,-3.1],[-7.9,-7.6],[-7.5,-7.9],[-7.2,-7.3],[-7.6,-8.2],[-7.3,-8.4],[-8.0,-7.0],
[-10.3,-7.3],[-9.8,-7.7],[-9.4,-7.1],[-9.7,-8.2],[-9.2,-8.6],[-10.0,-8.0],[-9.5,-8.9],[-9.1,-7.6],[-10.5,-7.9],
[-6.3,-5.9],[-5.6,-6.0],[-3.3,-5.0],[-2.6,-4.3],[-6.8,-7.5],[2.9,2.4],[3.3,2.5],[-0.3,-1.9],[0.7,-0.9]
];

const spreadPoints = [nocSpread, ucSpread, ngbSpread, rismSpread, mdSpread];
const corePoints = [nocCore.concat(nocCore2), ucCore.concat(ucCore2), ngbCore.concat(ngbCore2), rismCore.concat(rismCore2), mdCore.concat(mdCore2)];
const axisMin = [-12, -15, -20, -15, -15];
const axisMax = [40, 6, 8, 6, 6];
const xTicks = [[-10,0,10,20,30,40],[-15,-10,-5,0,5],[-20,-15,-10,-5,0,5],[-15,-10,-5,0,5],[-15,-10,-5,0,5]];
const yTicks = [[-8,0,8,16,24,32,40],[-15,-12,-9,-6,-3,0,3,6],[-20,-16,-12,-8,-4,0,4,8],[-15,-12,-9,-6,-3,0,3,6],[-15,-12,-9,-6,-3,0,3,6]];
const slopes = [1.20, 0.96, 1.12, 0.96, 0.99];
const intercepts = [20.10, -0.22, 0.20, -0.76, 0.64];
const rmse = ['20.27','1.26','1.44','1.43','1.25'];
const rmseErr = ['0.01','0.00','0.00','0.00','0.00'];
const mue = ['19.54','0.92','1.03','1.05','1.03'];
const mueErr = ['0.01','0.00','0.00','0.00','0.00'];
const r2 = ['0.31','0.84','0.85','0.83','0.89'];
const r2Err = ['0.00','0.00','0.00','0.00','0.00'];
const ySup = ['PSE3','PSE3','PSE3','PSE3','MD'];
const ySub = ['NoC','UC','NgB','PC + /3D \u2212 RISM',''];
const xSub = ['Exp','Exp','Exp','Exp','exp'];

// ---------- layout ----------
const grids = [
  {left:76, top:17, width:291, height:258},
  {left:466, top:17, width:290, height:258},
  {left:88, top:363, width:289, height:259},
  {left:468, top:363, width:288, height:259},
  {left:273, top:711, width:294, height:256}
];
const yNameGap = [36, 49, 50, 51, 47];
const statPos = [
  {x:350, y:179.5, align:'right'},
  {x:480, y:26, align:'left'},
  {x:101.5, y:373, align:'left'},
  {x:483, y:373, align:'left'},
  {x:288.5, y:719.5, align:'left'}
];

const SERIF = 'Liberation Serif';
const SANS = 'DejaVu Sans';
const nameRich = {
  d:{fontFamily:SERIF, fontSize:18, lineHeight:24, color:'#000'},
  g:{fontFamily:SERIF, fontStyle:'italic', fontSize:18, lineHeight:24, color:'#000'},
  sp:{fontFamily:SERIF, fontSize:13.5, lineHeight:24, verticalAlign:'top', color:'#000'},
  sp0:{fontFamily:SERIF, fontSize:13.5, lineHeight:24, verticalAlign:'top', width:0.1, color:'#000'},
  sb:{fontFamily:SERIF, fontSize:13.5, lineHeight:24, verticalAlign:'bottom', color:'#000'},
  sb0:{fontFamily:SERIF, fontSize:13.5, lineHeight:24, verticalAlign:'bottom', width:0.1, color:'#000'},
  s:{fontFamily:SANS, fontSize:17, lineHeight:24, color:'#000'}
};
function yName(i){
  if (!ySub[i]) return '{d|\u0394}{g|G}{sp|' + ySup[i] + '}{s|  (kcal/mol)}';
  if (ySub[i].length <= ySup[i].length) return '{d|\u0394}{g|G}{sb0|' + ySub[i] + '}{sp|' + ySup[i] + '}{s|  (kcal/mol)}';
  return '{d|\u0394}{g|G}{sp0|' + ySup[i] + '}{sb|' + ySub[i] + '}{s|  (kcal/mol)}';
}
function xName(i){ return '{d|\u0394}{g|G}{sb|' + xSub[i] + '}{s| (kcal/mol)}'; }
const fmt = v => String(v).replace('-', '\u2212');

const xAxes = [], yAxes = [], series = [], graphics = [];
const lineStyleAxis = {color:'#000', width:1.5};
for (let i = 0; i < 5; i++) {
  const common = {type:'value', gridIndex:i, min:axisMin[i], max:axisMax[i], splitLine:{show:false},
    axisLine:{show:true, onZero:false, lineStyle:lineStyleAxis}};
  xAxes.push(Object.assign({}, common, {position:'bottom',
    axisTick:{show:true, inside:true, length:5, customValues:xTicks[i], lineStyle:{color:'#000', width:1}},
    axisLabel:{show:true, customValues:xTicks[i], formatter:fmt, color:'#000', fontSize:17, fontFamily:SANS, margin:7},
    name:xName(i), nameLocation:'middle', nameGap:39, nameTextStyle:{rich:nameRich, color:'#000'}}));
  xAxes.push(Object.assign({}, common, {position:'top',
    axisTick:{show:true, inside:true, length:5, customValues:xTicks[i], lineStyle:{color:'#000', width:1}},
    axisLabel:{show:false}}));
  yAxes.push(Object.assign({}, common, {position:'left',
    axisTick:{show:true, inside:true, length:5, customValues:yTicks[i], lineStyle:{color:'#000', width:1}},
    axisLabel:{show:true, customValues:yTicks[i], formatter:fmt, color:'#000', fontSize:17, fontFamily:SANS, margin:8},
    name:yName(i), nameLocation:'middle', nameRotate:90, nameGap:yNameGap[i], nameTextStyle:{rich:nameRich, color:'#000'}}));
  yAxes.push(Object.assign({}, common, {position:'right',
    axisTick:{show:true, inside:true, length:5, customValues:yTicks[i], lineStyle:{color:'#000', width:1}},
    axisLabel:{show:false}}));

  // dense core (many overlapping molecules) and the sparse outliers
  series.push({type:'scatter', xAxisIndex:2*i, yAxisIndex:2*i, data:corePoints[i], symbolSize:11,
    itemStyle:{color:'rgba(0,0,0,0.66)', opacity:1, borderWidth:0}, emphasis:{disabled:true},
    silent:true, z:2, large:false, progressive:0});
  series.push({type:'scatter', xAxisIndex:2*i, yAxisIndex:2*i, data:spreadPoints[i], symbolSize:11,
    itemStyle:{color:'rgba(0,0,0,0.5)', opacity:1, borderWidth:0}, emphasis:{disabled:true},
    silent:true, z:2, large:false, progressive:0});
  const lo = axisMin[i], hi = axisMax[i];
  series.push({type:'line', xAxisIndex:2*i, yAxisIndex:2*i, data:[[lo,lo],[hi,hi]], symbol:'none',
    lineStyle:{color:'#000', width:1.5}, silent:true, z:3, clip:true});
  series.push({type:'line', xAxisIndex:2*i, yAxisIndex:2*i,
    data:[[lo, slopes[i]*lo+intercepts[i]],[hi, slopes[i]*hi+intercepts[i]]], symbol:'none',
    lineStyle:{color:'#0000ff', width:1.5}, silent:true, z:4, clip:true});

  const b = intercepts[i];
  const fitTail = b >= 0 ? '{t| + ' + b.toFixed(2) + '}' : '{t|\u2212' + Math.abs(b).toFixed(2) + '}';
  const txt = '{t|RMSE = ' + rmse[i] + ' \u00b1 ' + rmseErr[i] + '}\n' +
              '{t|MUE = ' + mue[i] + ' \u00b1 ' + mueErr[i] + '}\n' +
              '{i|R}{sup|2}{t|  = ' + r2[i] + ' \u00b1 ' + r2Err[i] + '}\n' +
              '{i|y}{t| = ' + slopes[i].toFixed(2) + '}{i|x}' + fitTail;
  graphics.push({type:'text', x:statPos[i].x, y:statPos[i].y, z:10, silent:true,
    style:{text:txt, align:statPos[i].align, textAlign:statPos[i].align, verticalAlign:'top', textVerticalAlign:'top',
      fill:'#000', font:'17.5px "Liberation Serif"',
      rich:{
        t:{fontFamily:SERIF, fontSize:17.5, lineHeight:21, fill:'#000'},
        i:{fontFamily:SERIF, fontStyle:'italic', fontSize:17.5, lineHeight:21, fill:'#000'},
        sup:{fontFamily:SERIF, fontSize:12, lineHeight:21, verticalAlign:'top', fill:'#000'}
      }}});
}

const chart = echarts.init(document.getElementById('c'), null, {renderer:'canvas'});
chart.setOption({
  animation:false,
  backgroundColor:'#fff',
  grid:grids.map(g => Object.assign({show:false, containLabel:false}, g)),
  xAxis:xAxes, yAxis:yAxes, series:series, graphic:graphics
});
</script></body></html>
